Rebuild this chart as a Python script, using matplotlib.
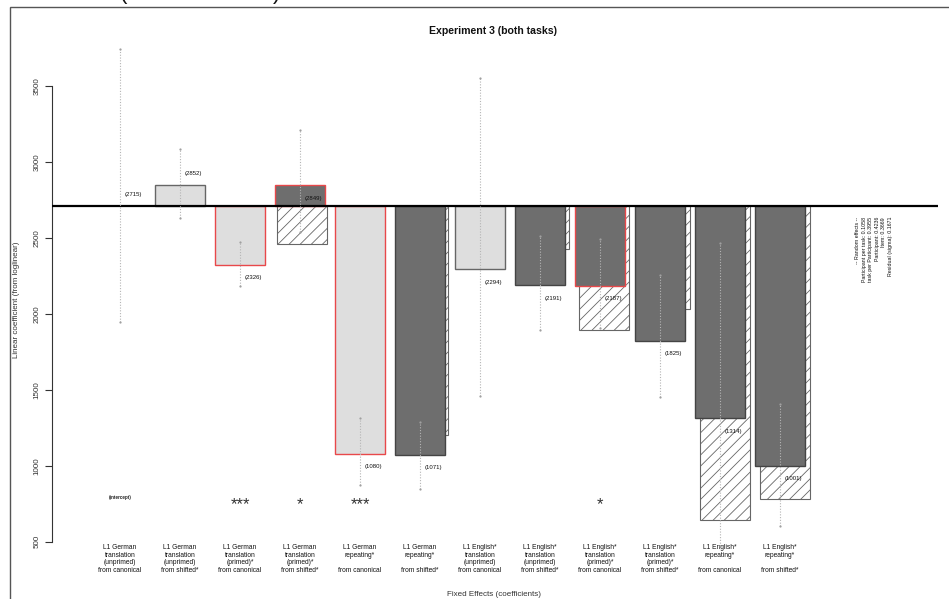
import numpy as np
import matplotlib
matplotlib.use("Agg")
import matplotlib.pyplot as plt
from matplotlib.patches import Rectangle

plt.rcParams['font.family'] = ['Liberation Sans', 'DejaVu Sans']
plt.rcParams['hatch.linewidth'] = 0.6

# model coefficients (intercept first), as fitted values on the raw scale
intercept = 2715
coef_labels = [
    "L1 German\ntranslation\n(unprimed)\nfrom canonical",
    "L1 German\ntranslation\n(unprimed)\nfrom shifted*",
    "L1 German\ntranslation\n(primed)*\nfrom canonical",
    "L1 German\ntranslation\n(primed)*\nfrom shifted*",
    "L1 German\nrepeating*\n\nfrom canonical",
    "L1 German\nrepeating*\n\nfrom shifted*",
    "L1 English*\ntranslation\n(unprimed)\nfrom canonical",
    "L1 English*\ntranslation\n(unprimed)\nfrom shifted*",
    "L1 English*\ntranslation\n(primed)*\nfrom canonical",
    "L1 English*\ntranslation\n(primed)*\nfrom shifted*",
    "L1 English*\nrepeating*\n\nfrom canonical",
    "L1 English*\nrepeating*\n\nfrom shifted*",
]
fitted = [2715, 2852, 2326, 2849, 1080, 1071, 2294, 2191, 2187, 1825, 1314, 1001]
# summed effect (hatched), only where it differs
summed = [None, None, None, 2460, None, 1203, None, 2427, 1897, 2033, 641, 779]
ci_low = [1950, 2633, 2183, 2543, 874, 847, 1462, 1895, 1910, 1455, 470, 605]
ci_high = [3746, 3088, 2473, 3213, 1317, 1291, 3555, 2512, 2493, 2257, 2468, 1405]
signif = ["(intercept)", "", "***", "*", "***", "", "", "", "*", "", "", ""]
interaction = [False, False, False, True, False, True, False, True, True, True, True, True]
significant = [False, False, True, True, True, False, False, False, True, False, False, False]
label_above = [True, True, False, False, False, False, False, False, False, False, False, False]

random_effects = [
    "-- Random effects --",
    "Participant per task: 0.1058",
    "task per Participant: 0.3955",
    "Participant: 0.4236",
    "Item: 0.3669",
    "Residual (sigma): 0.1671",
]

W, H = 949, 599
fig = plt.figure(figsize=(W / 100, H / 100), dpi=100)
ax = fig.add_axes([52 / W, 0, 886 / W, 592 / H])
ax.set_xlim(-68 / 60, 818 / 60)
ax.set_ylim(122.6, 4023.3)

x = np.arange(len(fitted))
bw = 50 / 60

light = "#dedede"
dark = "#6e6e6e"
red = "#e8484a"

# hatched summed effects, slightly shifted right, behind the coefficient bars
for i, s in enumerate(summed):
    if s is None:
        continue
    xs = i + (0.5 + 0.45 * i) / 60
    ax.bar(xs, s - intercept, bottom=intercept, width=bw, color="white",
           edgecolor="#666666", hatch="///", linewidth=0.8, zorder=1)

# coefficient bars
for i, v in enumerate(fitted):
    if i == 0:
        continue
    face = dark if interaction[i] else light
    edge = red if significant[i] else ("#444444" if interaction[i] else "#666666")
    ax.bar(i, v - intercept, bottom=intercept, width=bw, color=face,
           edgecolor=edge, linewidth=1.0, zorder=2)

ax.axhline(intercept, color="black", lw=1.6, zorder=3)

# confidence intervals
ax.vlines(x, ci_low, ci_high, colors="#b5b5b5", linestyles=(0, (1, 1.5)),
          lw=0.8, zorder=4)
ax.plot(x, ci_low, "o", ms=1.6, color="#a0a0a0", mec="none", zorder=4)
ax.plot(x, ci_high, "o", ms=1.6, color="#a0a0a0", mec="none", zorder=4)

# value labels
for i, v in enumerate(fitted):
    dy = 8.3 if label_above[i] else -9.3
    ax.annotate(f"({v})", (i, v), xytext=(9.4, dy), textcoords="offset points",
                ha="center", va="center", fontsize=4.3, color="#111111", zorder=5)

# significance marks
for i, s in enumerate(signif):
    if not s:
        continue
    if s.startswith("("):
        ax.text(i, 793, s, ha="center", va="center", fontsize=3.3,
                fontweight="bold", color="#222222")
    else:
        ax.text(i, 712, s, ha="center", va="baseline", fontsize=12,
                color="#333333")

# category labels under the bars
for i, lab in enumerate(coef_labels):
    ax.text(i, 485, lab, ha="center", va="top", fontsize=4.75,
            linespacing=1.12, color="#111111")

# random effects summary, rotated
ax.text(754 / 60, 2640, "\n".join(random_effects), rotation=90,
        ha="center", va="top", multialignment="right", fontsize=3.8,
        linespacing=1.4, color="#111111")

for side in ["top", "right", "bottom"]:
    ax.spines[side].set_visible(False)
ax.spines["left"].set_bounds(500, 3500)
ax.spines["left"].set_color("#333333")
ax.spines["left"].set_linewidth(0.8)
ax.set_xticks([])
ax.set_yticks([500, 1000, 1500, 2000, 2500, 3000, 3500])
ax.tick_params(axis="y", length=5, width=0.8, color="#333333", pad=3.2,
               labelsize=5.8, labelcolor="#333333")
for t in ax.get_yticklabels():
    t.set_rotation(90)
    t.set_va("center")

ax.patch.set_visible(False)

fig.text(493 / W, 1 - 31 / H, "Experiment 3 (both tasks)", ha="center",
         va="center", fontsize=7.6, fontweight="bold", color="#111111")
fig.text(494 / W, 1 - 594 / H, "Fixed Effects (coefficients)", ha="center",
         va="center", fontsize=5.8, color="#333333")
fig.text(17 / W, 1 - 300 / H, "Linear coefficient (from loglinear)",
         ha="center", va="center", rotation=90, fontsize=5.8, color="#333333")

# outer frame and the clipped heading above it
fig.patches.append(Rectangle((10 / W, -0.05), 1.2, 1.05 - 7 / H,
                             transform=fig.transFigure, fill=False,
                             edgecolor="#555555", lw=1.0))
fig.text(123 / W, 1 + 1 / H, "(", ha="center", va="baseline", fontsize=16,
         color="#111111")
fig.text(277 / W, 1 + 1 / H, ")", ha="center", va="baseline", fontsize=16,
         color="#111111")

fig.savefig("out.png", dpi=100)
